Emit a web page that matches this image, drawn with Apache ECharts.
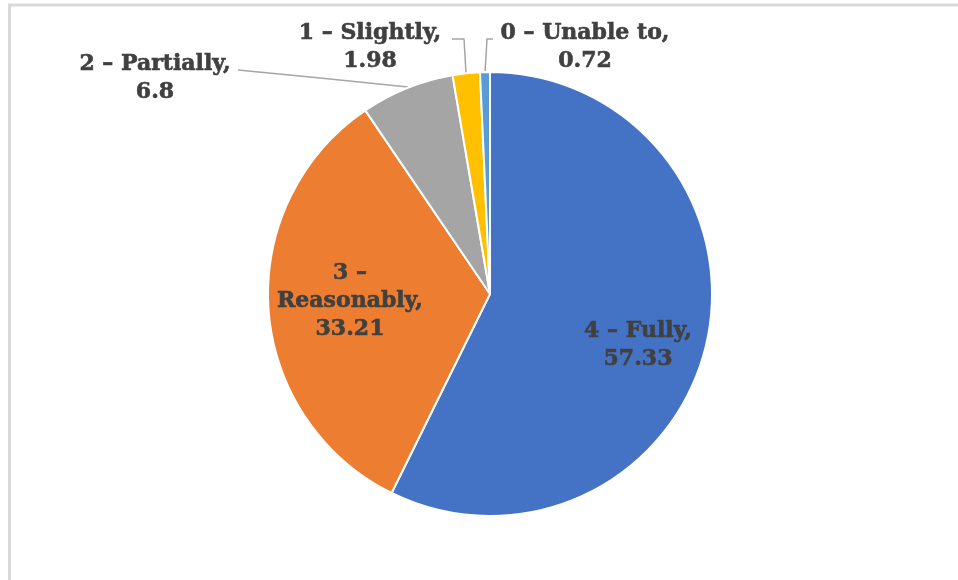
<!DOCTYPE html>
<html>
<head>
<meta charset="utf-8">
<script src="https://cdn.jsdelivr.net/npm/echarts@6/dist/echarts.min.js"></script>
<style>html,body{margin:0;padding:0;background:#fff}#c{width:958px;height:580px}</style>
</head>
<body>
<div id="c"></div>
<script>
const categories = ['4 – Fully', '3 – Reasonably', '2 – Partially', '1 – Slightly', '0 – Unable to'];
const values = [57.33, 33.21, 6.8, 1.98, 0.72];
const labelTexts = ['4 – Fully,\n57.33', '3 –\nReasonably,\n33.21', '2 – Partially,\n6.8', '1 – Slightly,\n1.98', '0 – Unable to,\n0.72'];
const colors = ['#4472C4', '#ED7D31', '#A5A5A5', '#FFC000', '#5B9BD5'];

// label placement (layout, not data)
const labelPos = [[638, 345], [350, 301], [155, 78], [370, 47], [585, 47]];
const linePts = [null, null,
  [[408, 87], [320, 78], [238, 70]],
  [[466, 73], [464, 39], [452, 39]],
  [[485, 73], [487, 39], [493, 39]]];

const chart = echarts.init(document.getElementById('c'));
chart.setOption({
  animation: false,
  graphic: [
    {type: 'line', shape: {x1: 8, y1: 5, x2: 958, y2: 5}, style: {stroke: '#d9d9d9', lineWidth: 3}},
    {type: 'line', shape: {x1: 9.5, y1: 4, x2: 9.5, y2: 580}, style: {stroke: '#d9d9d9', lineWidth: 3}}
  ],
  series: [{
    type: 'pie',
    center: [490, 294],
    radius: [0, 222],
    startAngle: 90,
    clockwise: true,
    itemStyle: {borderColor: '#fff', borderWidth: 2},
    label: {
      show: true,
      formatter: p => labelTexts[p.dataIndex],
      fontFamily: 'DejaVu Serif',
      fontWeight: 'bold',
      fontSize: 22,
      lineHeight: 28,
      color: '#404040',
      textBorderColor: '#404040',
      textBorderWidth: 0.6,
      align: 'center'
    },
    labelLine: {show: true, lineStyle: {color: '#A5A5A5', width: 1.5}},
    labelLayout: function (p) {
      const i = p.dataIndex;
      const r = {x: labelPos[i][0], y: labelPos[i][1], align: 'center', verticalAlign: 'middle'};
      if (linePts[i]) r.labelLinePoints = linePts[i];
      return r;
    },
    data: categories.map((c, i) => ({
      name: c,
      value: values[i],
      itemStyle: {color: colors[i]},
      labelLine: {show: !!linePts[i]}
    }))
  }]
});
</script>
</body>
</html>
